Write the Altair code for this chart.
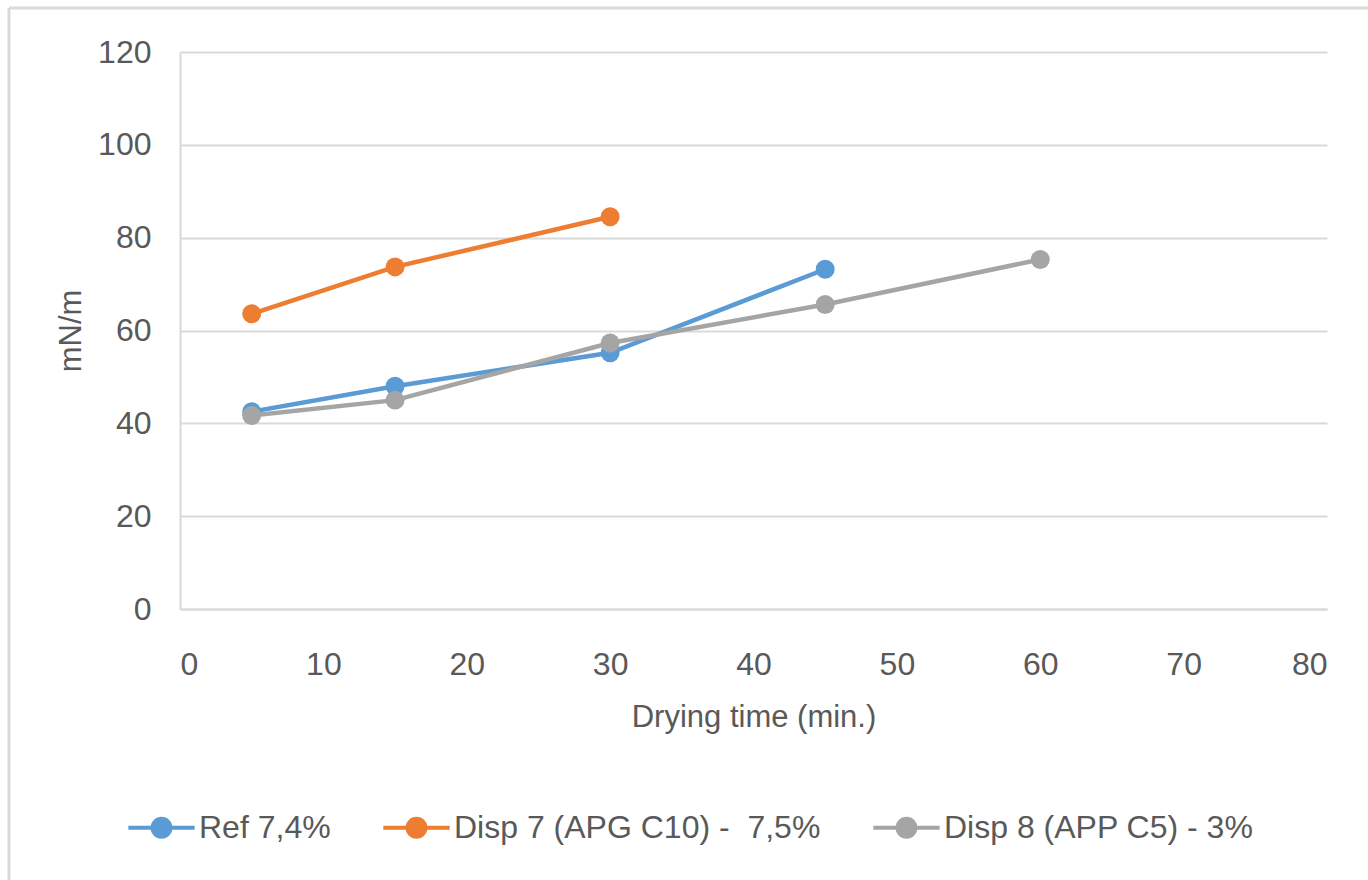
import altair as alt
import pandas as pd

series_names = ["Ref 7,4%", "Disp 7 (APG C10) -  7,5%", "Disp 8 (APP C5) - 3%"]
colors = ["#5B9BD5", "#ED7D31", "#A5A5A5"]

ref_x = [5, 15, 30, 45]
ref_y = [42.5, 48.0, 55.2, 73.2]
d7_x = [5, 15, 30]
d7_y = [63.6, 73.7, 84.5]
d8_x = [5, 15, 30, 45, 60]
d8_y = [41.7, 45.0, 57.3, 65.6, 75.3]

rows = []
for name, xs, ys in zip(series_names, [ref_x, d7_x, d8_x], [ref_y, d7_y, d8_y]):
    for i, (x, y) in enumerate(zip(xs, ys)):
        rows.append({"series": name, "t": x, "v": y, "i": i})
df = pd.DataFrame(rows)

FONT = "Liberation Sans"
W, H = 1147, 557

legend_path = ("M-1,0L1,0 M-0.27,0 A0.27,0.27 0 1,0 0.27,0 "
               "A0.27,0.27 0 1,0 -0.27,0 Z")

color = alt.Color(
    "series:N",
    scale=alt.Scale(domain=series_names, range=colors),
    sort=series_names,
    legend=alt.Legend(
        title=None,
        orient="none",
        direction="horizontal",
        columns=3,
        legendX=-54,
        legendY=740,
        symbolType=legend_path,
        symbolSize=4400,
        symbolStrokeWidth=4,
        labelFont=FONT,
        labelFontSize=32,
        labelColor="#595959",
        labelOffset=2,
        columnPadding=44,
        labelLimit=600,
        labelExpr="replace(datum.label, '-  ', '-\u00a0 ')",
    ),
)

x_enc = alt.X(
    "t:Q",
    scale=alt.Scale(domain=[0, 80], nice=False, zero=True),
    axis=alt.Axis(
        values=list(range(0, 81, 10)),
        title="Drying time (min.)",
        grid=False,
        ticks=False,
        domain=True,
        domainColor="#D9D9D9",
        domainWidth=2,
        labelFont=FONT,
        labelFontSize=32,
        labelColor="#595959",
        labelPadding=40,
        titleFont=FONT,
        titleFontSize=31,
        titleFontWeight="normal",
        titleColor="#595959",
        titlePadding=22,
    ),
)
y_enc = alt.Y(
    "v:Q",
    scale=alt.Scale(domain=[0, 120], nice=False),
    axis=alt.Axis(
        values=list(range(0, 121, 20)),
        title="mN/m",
        grid=True,
        gridColor="#D9D9D9",
        gridWidth=2,
        ticks=False,
        domain=True,
        domainColor="#D9D9D9",
        domainWidth=2,
        labelFont=FONT,
        labelFontSize=32,
        labelColor="#595959",
        labelPadding=29,
        titleFont=FONT,
        titleFontSize=31,
        titleFontWeight="normal",
        titleColor="#595959",
        titlePadding=10,
    ),
)

base = alt.Chart(df)
lines = base.mark_line(strokeWidth=4.5).encode(
    x=x_enc, y=y_enc, color=color, order="i:Q", detail="series:N"
)
points = base.mark_circle(size=360, opacity=1).encode(
    x="t:Q", y="v:Q", color=alt.Color("series:N", sort=series_names)
)

border_df = pd.DataFrame({"k": [0]})
top_border = alt.Chart(border_df).mark_rule(color="#D9D9D9", strokeWidth=3).encode(
    x=alt.value(-171), x2=alt.value(1200), y=alt.value(-44)
)
left_border = alt.Chart(border_df).mark_rule(color="#D9D9D9", strokeWidth=3).encode(
    x=alt.value(-171), y=alt.value(-44), y2=alt.value(840)
)

chart = alt.layer(top_border, left_border, lines, points).properties(
    width=W,
    height=H,
    padding={"left": 180, "top": 52, "right": 41, "bottom": 271},
    autosize=alt.AutoSizeParams(type="none"),
    background="white",
).configure_view(stroke=None)

chart.save("out.html", embed_options={"renderer": "svg", "actions": False})
